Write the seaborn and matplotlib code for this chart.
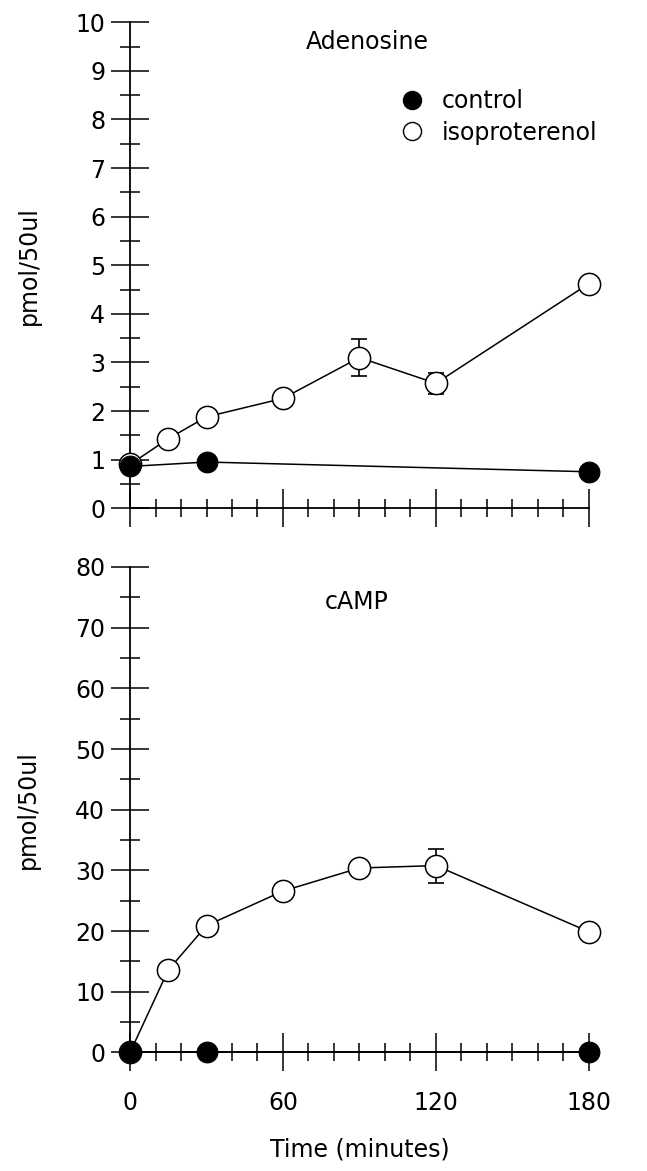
import numpy as np
import pandas as pd
import matplotlib
matplotlib.use("Agg")
import matplotlib.pyplot as plt
from matplotlib.lines import Line2D
from matplotlib.ticker import MultipleLocator
import seaborn as sns

# ---- data ----
time_iso = [0, 15, 30, 60, 90, 120, 180]
time_ctl = [0, 30, 180]

adeno_iso = [0.90, 1.43, 1.88, 2.26, 3.10, 2.57, 4.62]
adeno_iso_err = [0, 0, 0, 0, 0.38, 0.22, 0]
adeno_ctl = [0.86, 0.95, 0.75]

camp_iso = [0.0, 13.6, 20.9, 26.6, 30.4, 30.8, 19.9]
camp_iso_err = [0, 0, 0, 0, 0, 2.8, 0]
camp_ctl = [0.0, 0.0, 0.0]

x_major = [0, 60, 120, 180]

sns.set_theme(style="white")
plt.rcParams['font.family'] = ['DejaVu Sans']
plt.rcParams['text.color'] = 'black'
plt.rcParams['axes.labelcolor'] = 'black'
plt.rcParams['xtick.color'] = 'black'
plt.rcParams['ytick.color'] = 'black'

FS = 17

fig = plt.figure(figsize=(6.47, 11.71), dpi=100)
ax1 = fig.add_axes([0.201, 0.566, 0.709, 0.415])
ax2 = fig.add_axes([0.201, 0.1012, 0.709, 0.4146])

def draw(ax, iso, iso_err, ctl, ymax, ymajor, yminor):
    df_iso = pd.DataFrame({"t": time_iso, "v": iso})
    df_ctl = pd.DataFrame({"t": time_ctl, "v": ctl})
    ax.errorbar(time_iso, iso, yerr=[e if e > 0 else np.nan for e in iso_err],
                fmt="none", ecolor="black", elinewidth=1.2, capsize=6, capthick=1.2,
                zorder=2, clip_on=False)
    sns.lineplot(data=df_ctl, x="t", y="v", ax=ax, color="black", linewidth=1.1,
                 marker="o", markersize=15, markerfacecolor="black",
                 markeredgecolor="black", zorder=4, clip_on=False)
    sns.lineplot(data=df_iso, x="t", y="v", ax=ax, color="black", linewidth=1.1,
                 marker="o", markersize=16, markerfacecolor="white",
                 markeredgecolor="black", markeredgewidth=1.1, zorder=3, clip_on=False)
    ax.set_xlim(0, 180)
    ax.set_ylim(0, ymax)
    ax.set_xticks(x_major)
    ax.xaxis.set_minor_locator(MultipleLocator(10))
    ax.yaxis.set_major_locator(MultipleLocator(ymajor))
    ax.yaxis.set_minor_locator(MultipleLocator(yminor))
    for s in ["top", "right"]:
        ax.spines[s].set_visible(False)
    for s in ["left", "bottom"]:
        ax.spines[s].set_color("black")
        ax.spines[s].set_linewidth(1.3)
    ax.tick_params(axis="y", which="major", direction="inout", length=28, width=1.1,
                   labelsize=FS, pad=4, left=True)
    ax.tick_params(axis="y", which="minor", direction="inout", length=14, width=1.1, left=True)
    ax.tick_params(axis="x", which="major", direction="inout", length=28, width=1.1,
                   labelsize=FS, pad=14, bottom=True)
    ax.tick_params(axis="x", which="minor", direction="inout", length=13, width=1.1, bottom=True)
    ax.set_ylabel("pmol/50ul", fontsize=FS, labelpad=25)
    ax.set_xlabel("")
    ax.patch.set_alpha(0)

draw(ax1, adeno_iso, adeno_iso_err, adeno_ctl, 10, 1, 0.5)
draw(ax2, camp_iso, camp_iso_err, camp_ctl, 80, 10, 5)

ax1.tick_params(axis="x", labelbottom=False)
ax2.set_xlabel("Time (minutes)", fontsize=FS, labelpad=16)

ax1.text(0.517, 0.959, "Adenosine", transform=ax1.transAxes, fontsize=FS,
         ha="center", va="center")
ax2.text(0.495, 0.927, "cAMP", transform=ax2.transAxes, fontsize=FS,
         ha="center", va="center")

handles = [Line2D([], [], linestyle="none", marker="o", markersize=13,
                  markerfacecolor="black", markeredgecolor="black"),
           Line2D([], [], linestyle="none", marker="o", markersize=13,
                  markerfacecolor="white", markeredgecolor="black")]
ax1.legend(handles, ["control", "isoproterenol"], loc="upper left",
           bbox_to_anchor=(0.563, 0.887), frameon=False, fontsize=FS,
           handletextpad=0.75, labelspacing=0.33, borderpad=0, handlelength=1.0)

fig.savefig("out.png", dpi=100)
